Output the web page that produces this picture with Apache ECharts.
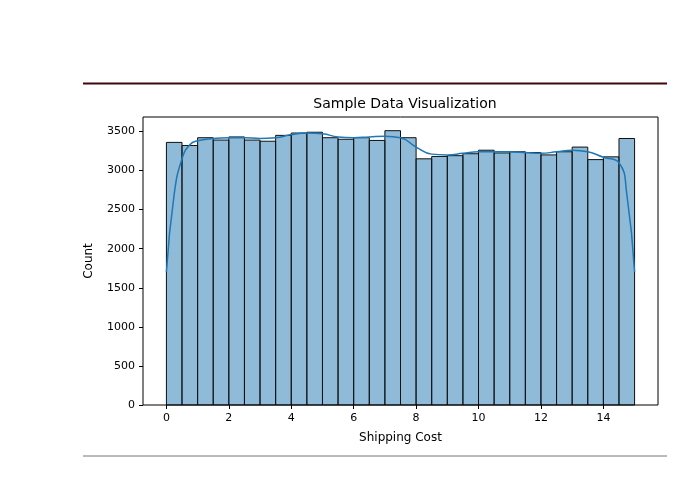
<!DOCTYPE html>
<html>
<head>
<meta charset="utf-8">
<script src="https://cdn.jsdelivr.net/npm/echarts@6/dist/echarts.min.js"></script>
<style>html,body{margin:0;padding:0;background:#fff}#main{width:680px;height:480px}</style>
</head>
<body>
<div id="main"></div>
<script>
// histogram of shipping cost, 30 bins from 0 to 15
var binMin = 0
var binWidth = 0.5
var counts = [3360, 3320, 3420, 3390, 3430, 3390, 3375, 3450, 3480, 3490, 3420, 3400, 3420, 3385, 3510,
  3420, 3150, 3180, 3190, 3215, 3260, 3225, 3240, 3230, 3200, 3240, 3300, 3140, 3175, 3410]
var kdeX = [0, 0.25, 0.5, 0.75, 1, 1.5, 2, 2.5, 3, 3.5, 4, 4.5, 5, 5.5, 6, 6.5, 7, 7.5, 8, 8.5,
  9, 9.5, 10, 10.5, 11, 11.5, 12, 12.5, 13, 13.5, 14, 14.5, 14.75, 15]
var kdeY = [1700, 2700, 3150, 3330, 3380, 3410, 3420, 3420, 3410, 3420, 3460, 3480, 3470, 3430, 3420, 3430, 3440, 3420, 3300, 3210,
  3200, 3220, 3240, 3240, 3240, 3230, 3220, 3240, 3260, 3240, 3170, 3100, 2700, 1700]
var xTicks = [0, 2, 4, 6, 8, 10, 12, 14]
var yTicks = [0, 500, 1000, 1500, 2000, 2500, 3000, 3500]

var barData = counts.map(function (c, i) {
  return [binMin + i * binWidth, binMin + (i + 1) * binWidth, c]
})
var kdeData = kdeX.map(function (x, i) { return [x, kdeY[i]] })

var myChart = echarts.init(document.getElementById('main'))
myChart.setOption({
  animation: false,
  textStyle: { fontFamily: 'DejaVu Sans' },
  title: {
    text: 'Sample Data Visualization',
    left: 400, top: 92, textAlign: 'center',
    textStyle: { fontSize: 14, fontWeight: 'normal', color: '#000' }
  },
  graphic: [
    { type: 'rect', shape: { x: 83, y: 82.5, width: 584, height: 2 }, style: { fill: '#3d0a0a' } },
    { type: 'line', shape: { x1: 83, y1: 456, x2: 667, y2: 456 }, style: { stroke: '#777', lineWidth: 1 } },
    { type: 'rect', shape: { x: 143, y: 117, width: 515, height: 288 }, style: { fill: 'none', stroke: '#000', lineWidth: 1 }, z: 10 }
  ],
  grid: { left: 143, right: 22, top: 117, bottom: 75 },
  xAxis: {
    type: 'value', min: -0.75, max: 15.75,
    name: 'Shipping Cost', nameLocation: 'middle', nameGap: 27,
    nameTextStyle: { fontSize: 12, color: '#000' },
    axisLine: { show: false, onZero: false },
    axisTick: { show: true, length: 4, lineStyle: { color: '#000' }, customValues: xTicks },
    axisLabel: { color: '#000', fontSize: 11, customValues: xTicks },
    splitLine: { show: false }
  },
  yAxis: {
    type: 'value', min: 0, max: 3685,
    name: 'Count', nameLocation: 'middle', nameGap: 48,
    nameTextStyle: { fontSize: 12, color: '#000' },
    axisLine: { show: false, onZero: false },
    axisTick: { show: true, length: 4, lineStyle: { color: '#000' }, customValues: yTicks },
    axisLabel: { color: '#000', fontSize: 11, customValues: yTicks, formatter: function (v) { return String(v) } },
    splitLine: { show: false }
  },
  series: [{
    type: 'custom',
    data: barData,
    encode: { x: [0, 1], y: 2 },
    renderItem: function (params, api) {
      var p0 = api.coord([api.value(0), api.value(2)])
      var p1 = api.coord([api.value(1), 0])
      return {
        type: 'rect',
        shape: { x: p0[0], y: p0[1], width: p1[0] - p0[0], height: p1[1] - p0[1] },
        style: { fill: 'rgba(31,119,180,0.5)', stroke: '#111', lineWidth: 1 }
      }
    }
  }, {
    type: 'line',
    data: kdeData,
    smooth: true,
    showSymbol: false,
    lineStyle: { color: '#1f77b4', width: 1.5 },
    z: 5
  }]
})
</script>
</body>
</html>
